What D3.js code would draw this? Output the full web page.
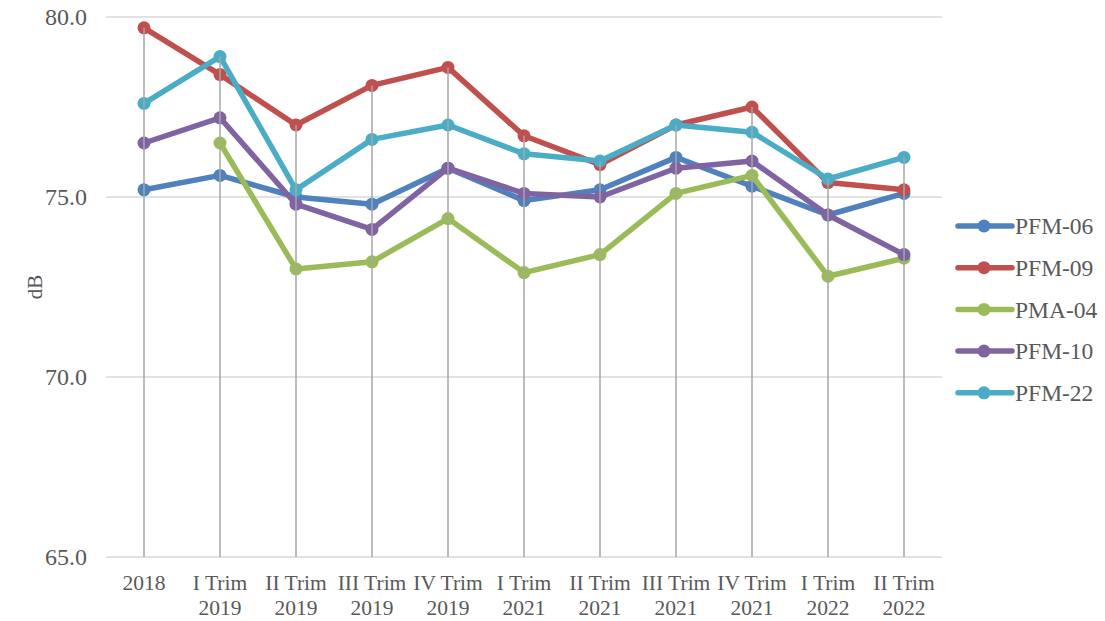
<!DOCTYPE html>
<html>
<head>
<meta charset="utf-8">
<script src="https://cdn.jsdelivr.net/npm/d3@7"></script>
<style>
  html, body { margin: 0; padding: 0; background: #fff; }
  svg { display: block; font-family: "Liberation Serif", "Times New Roman", serif; }
</style>
</head>
<body>
<svg id="chart" width="1105" height="621"></svg>
<script>
// Periods on the x axis (two-line labels split on "\n")
const categories = ["2018", "I Trim\n2019", "II Trim\n2019", "III Trim\n2019", "IV Trim\n2019",
  "I Trim\n2021", "II Trim\n2021", "III Trim\n2021", "IV Trim\n2021", "I Trim\n2022", "II Trim\n2022"];

// Measured levels in dB per station (null = no measurement)
const pfm06 = [75.2, 75.6, 75.0, 74.8, 75.8, 74.9, 75.2, 76.1, 75.3, 74.5, 75.1];
const pfm09 = [79.7, 78.4, 77.0, 78.1, 78.6, 76.7, 75.9, 77.0, 77.5, 75.4, 75.2];
const pma04 = [null, 76.5, 73.0, 73.2, 74.4, 72.9, 73.4, 75.1, 75.6, 72.8, 73.3];
const pfm10 = [76.5, 77.2, 74.8, 74.1, 75.8, 75.1, 75.0, 75.8, 76.0, 74.5, 73.4];
const pfm22 = [77.6, 78.9, 75.2, 76.6, 77.0, 76.2, 76.0, 77.0, 76.8, 75.5, 76.1];

const seriesNames = ["PFM-06", "PFM-09", "PMA-04", "PFM-10", "PFM-22"];
const seriesColors = ["#4F81BD", "#C0504D", "#9BBB59", "#8064A2", "#4BACC6"];
const yTicks = [65, 70, 75, 80];

const series = [pfm06, pfm09, pma04, pfm10, pfm22].map((vals, i) => ({
  name: seriesNames[i], color: seriesColors[i], values: vals
}));

const svg = d3.select("#chart");
const plot = { left: 106, right: 942, top: 17, bottom: 557 };

const x = d3.scaleBand().domain(categories).range([plot.left, plot.right]);
const cx = c => x(c) + x.bandwidth() / 2;
const y = d3.scaleLinear().domain([65, 80]).range([plot.bottom, plot.top]);

// Horizontal gridlines
svg.append("g").selectAll("line").data(yTicks).join("line")
  .attr("x1", plot.left).attr("x2", plot.right)
  .attr("y1", d => y(d)).attr("y2", d => y(d))
  .attr("stroke", "#d9d9d9").attr("stroke-width", 1.5);

// Y tick labels
svg.append("g").selectAll("text").data(yTicks).join("text")
  .attr("x", 87).attr("y", d => y(d)).attr("dy", "0.35em")
  .attr("text-anchor", "end").attr("font-size", 24).attr("fill", "#595959")
  .text(d => d3.format(".1f")(d));

// Y axis title
svg.append("text")
  .attr("transform", `translate(42,${(plot.top + plot.bottom) / 2}) rotate(-90)`)
  .attr("text-anchor", "middle").attr("font-size", 21).attr("fill", "#595959")
  .text("dB");

// X tick labels
const xl = svg.append("g").selectAll("text").data(categories).join("text")
  .attr("text-anchor", "middle").attr("font-size", 21.5).attr("fill", "#595959");
xl.each(function (c) {
  const lines = c.split("\n");
  const t = d3.select(this);
  lines.forEach((ln, i) => {
    t.append("tspan").attr("x", cx(c)).attr("y", 590 + i * 24.5).text(ln);
  });
});

// Lines and markers
const line = d3.line()
  .defined(d => d.v !== null)
  .x(d => cx(d.c)).y(d => y(d.v));

series.forEach(s => {
  const pts = s.values.map((v, i) => ({ c: categories[i], v }));
  const g = svg.append("g");
  g.append("path").datum(pts)
    .attr("d", line).attr("fill", "none")
    .attr("stroke", s.color).attr("stroke-width", 5.5)
    .attr("stroke-linejoin", "round").attr("stroke-linecap", "round");
  g.selectAll("circle").data(pts.filter(d => d.v !== null)).join("circle")
    .attr("cx", d => cx(d.c)).attr("cy", d => y(d.v)).attr("r", 6.5)
    .attr("fill", s.color);
});

// Drop lines from the highest point of each period to the axis
svg.append("g").selectAll("line").data(categories).join("line")
  .attr("x1", c => cx(c)).attr("x2", c => cx(c))
  .attr("y1", (c, i) => y(d3.max(series, s => s.values[i])))
  .attr("y2", plot.bottom)
  .attr("stroke", "#a6a6a6").attr("stroke-width", 1.5);

// Legend
const legend = svg.append("g").selectAll("g").data(series).join("g")
  .attr("transform", (d, i) => `translate(0,${226 + i * 41.7})`);
legend.append("line").attr("x1", 958).attr("x2", 1012).attr("y1", 0).attr("y2", 0)
  .attr("stroke", d => d.color).attr("stroke-width", 5.5).attr("stroke-linecap", "round");
legend.append("circle").attr("cx", 984).attr("cy", 0).attr("r", 6.5).attr("fill", d => d.color);
legend.append("text").attr("x", 1015).attr("y", 0).attr("dy", "0.35em")
  .attr("font-size", 23.5).attr("fill", "#595959").text(d => d.name);
</script>
</body>
</html>
